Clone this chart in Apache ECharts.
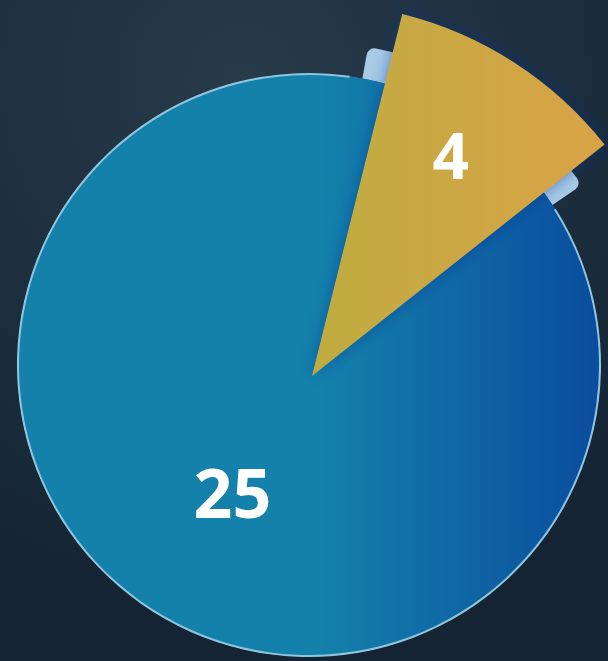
<!DOCTYPE html>
<html>
<head>
<meta charset="utf-8">
<script src="https://cdn.jsdelivr.net/npm/echarts@6/dist/echarts.min.js"></script>
<style>
  html, body { margin: 0; padding: 0; background: #182837; }
  #main { width: 608px; height: 661px; }
</style>
</head>
<body>
<div id="main"></div>
<script>
const names = ["其他", "主要"];
const values = [4, 25];

const myChart = echarts.init(document.getElementById("main"));

const blueFill = new echarts.graphic.LinearGradient(
  320, 0, 600, 0,
  [
    { offset: 0, color: "#1481aa" },
    { offset: 1, color: "#0a4c9e" },
  ],
  true
);

myChart.setOption({
  backgroundColor: new echarts.graphic.RadialGradient(0.4, 0.12, 0.9, [
    { offset: 0, color: "#283b4b" },
    { offset: 1, color: "#142433" },
  ]),
  series: [
    // light blue edge peeking behind the gold slice
    {
      type: "pie",
      silent: true,
      center: [311, 370],
      radius: 328,
      startAngle: 82,
      padAngle: 4,
      label: { show: false },
      itemStyle: { borderWidth: 0 },
      data: names.map((n, i) => ({
        name: n,
        value: values[i],
        itemStyle: {
          color: i === 0 ? "#a9cbe6" : "rgba(0,0,0,0)",
          borderRadius: 8,
        },
      })),
    },
    // main blue disc
    {
      type: "pie",
      silent: true,
      center: [309, 365],
      radius: 291,
      startAngle: 82,
      itemStyle: { color: blueFill, borderColor: blueFill, borderWidth: 1 },
      label: {
        show: true,
        position: "inside",
        color: "#ffffff",
        fontSize: 68,
        fontWeight: "bold",
        fontFamily: "Open Sans",
        offset: [4, 9],
        formatter: (p) => (p.dataIndex === 1 ? p.value : ""),
      },
      data: names.map((n, i) => ({ name: n, value: values[i] })),
    },
    // thin light outline of the disc
    {
      type: "pie",
      silent: true,
      center: [309, 365],
      radius: [290, 292],
      startAngle: 82,
      label: { show: false },
      itemStyle: { borderWidth: 0 },
      data: names.map((n, i) => ({
        name: n,
        value: values[i],
        itemStyle: { color: i === 1 ? "#8fc6de" : "rgba(0,0,0,0)" },
      })),
    },
    // raised gold slice
    {
      type: "pie",
      silent: true,
      center: [312, 376],
      radius: 373,
      startAngle: 82,
      padAngle: 12,
      label: {
        show: true,
        position: "inside",
        color: "#ffffff",
        fontSize: 64,
        fontWeight: "bold",
        fontFamily: "Open Sans",
        offset: [36, -56],
        formatter: (p) => (p.dataIndex === 0 ? p.value : ""),
      },
      data: names.map((n, i) => ({
        name: n,
        value: values[i],
        itemStyle:
          i === 0
            ? {
                color: new echarts.graphic.LinearGradient(0, 0, 1, 0, [
                  { offset: 0, color: "#bfac41" },
                  { offset: 1, color: "#d9a346" },
                ]),
                shadowColor: "rgba(0,50,150,0.5)",
                shadowBlur: 16,
              }
            : { color: "rgba(0,0,0,0)" },
      })),
    },
  ],
});

window.addEventListener("resize", function () {
  myChart.resize();
});
</script>
</body>
</html>
